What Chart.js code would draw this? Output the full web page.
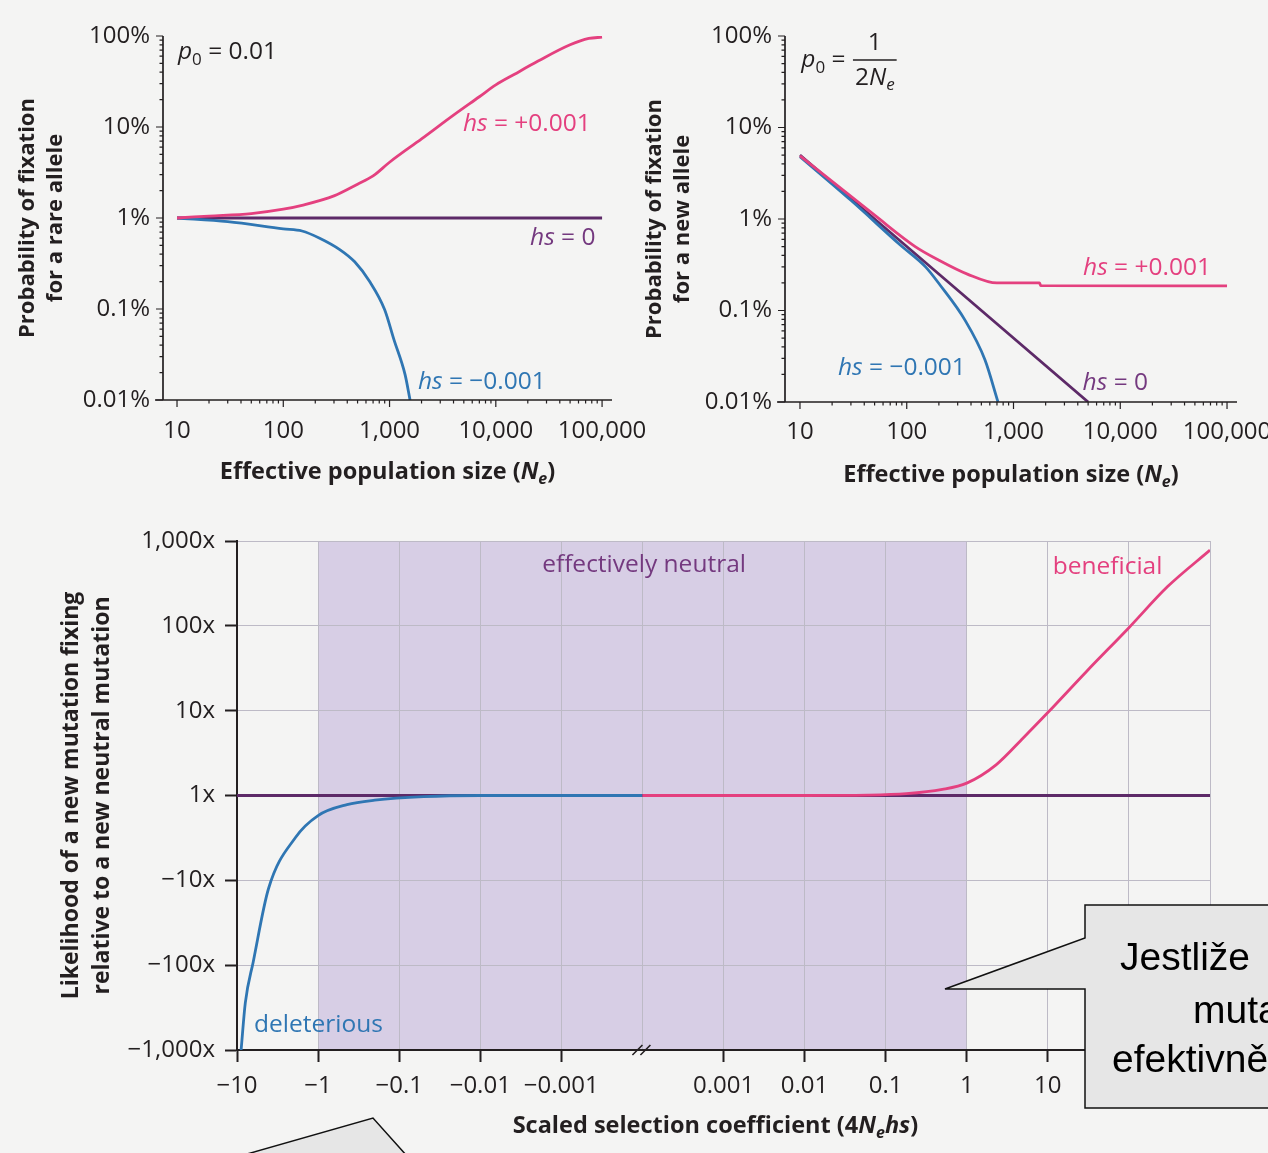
<!DOCTYPE html>
<html lang="en">
<head>
<meta charset="utf-8">
<title>Fixation probability, effective population size and selection</title>
<script src="https://cdn.jsdelivr.net/npm/chart.js@4.4.1/dist/chart.umd.min.js"></script>
<style>
  html, body { margin: 0; padding: 0; background: #f4f4f3; }
  #page { position: relative; width: 1268px; height: 1153px; overflow: hidden; }
  .panel { position: absolute; }
  .panel canvas { display: block; }
  #callouts { position: absolute; left: 0; top: 0; }
</style>
</head>
<body>
<div id="page">
  <div class="panel" style="left:0;top:0;width:660px;height:500px"><canvas id="chart-rare"></canvas></div>
  <div class="panel" style="left:620px;top:0;width:648px;height:500px"><canvas id="chart-new"></canvas></div>
  <div class="panel" style="left:0;top:500px;width:1268px;height:653px"><canvas id="chart-scaled"></canvas></div>
  <svg id="callouts" width="1268" height="1153">
    <path d="M1085 905 H1300 V1108 H1085 V989 H945 L1085 938 Z" fill="#e6e6e6" stroke="#111" stroke-width="1.5"/>
    <text font-family="'Liberation Sans', Arial, sans-serif" font-size="39" fill="#000">
      <tspan x="1120" y="970">Jestliže</tspan>
      <tspan x="1193" y="1023">mutace</tspan>
      <tspan x="1112" y="1072">efektivně neutrální</tspan>
    </text>
    <path d="M240 1156 L373 1118 L407 1156 Z" fill="#e6e6e6" stroke="#111" stroke-width="1.5"/>
  </svg>
</div>

<script>
'use strict';

/* ── Data ─────────────────────────────────────────────────────── */
// Top left: fixation of a rare allele (p0 = 0.01), probability in %
const RARE_PLUS_NE   = [10, 20, 50, 100, 150, 300, 500, 700, 1000, 2000, 4000, 7000, 10000, 15000, 25000, 50000, 75000, 100000];
const RARE_PLUS_PCT  = [1.0, 1.05, 1.12, 1.25, 1.38, 1.75, 2.35, 2.9, 4.1, 7.4, 13.5, 21.5, 29, 38, 53, 80, 94, 97];
const RARE_MINUS_NE  = [10, 30, 100, 150, 220, 340, 470, 650, 900, 1100, 1400, 1560];
const RARE_MINUS_PCT = [1.0, 0.91, 0.76, 0.72, 0.60, 0.45, 0.33, 0.2, 0.098, 0.046, 0.019, 0.01];
const RARE_ZERO_NE   = [10, 100000];
const RARE_ZERO_PCT  = [1, 1];

// Top right: fixation of a new allele (p0 = 1/2Ne), probability in %
const NEW_PLUS_NE   = [10, 50, 120, 200, 370, 700, 1750, 1800, 100000];
const NEW_PLUS_PCT  = [4.9, 1.1, 0.5, 0.355, 0.25, 0.2, 0.2, 0.187, 0.186];
const NEW_MINUS_NE  = [10, 30, 87, 150, 205, 350, 540, 716];
const NEW_MINUS_PCT = [4.8, 1.6, 0.52, 0.30, 0.19, 0.079, 0.029, 0.01];
const NEW_ZERO_NE   = [10, 5000];
const NEW_ZERO_PCT  = [5.0, 0.01];

// Bottom: fixation relative to a neutral mutation vs scaled selection coefficient 4Ne·hs
const DEL_S   = [-8.9, -7.9, -6.3, -4.1, -1.9, -1, -0.44, -0.2, -0.05, -0.01, -0.0001];
const DEL_REL = [0.001, 0.0036, 0.011, 0.079, 0.32, 0.58, 0.78, 0.88, 0.97, 1.0, 1.0];
const BEN_S   = [0.0001, 0.01, 0.06, 0.18, 0.5, 1, 2.3, 5, 10, 30, 100, 300, 1000];
const BEN_REL = [1, 1, 1.01, 1.05, 1.18, 1.4, 2.3, 4.8, 9.5, 29, 95, 290, 780];
const NEU_S   = [-10, 1000];
const NEU_REL = [1, 1];

// Ticks
const NE_TICKS   = [10, 100, 1000, 10000, 100000];
const NE_LABELS  = ['10', '100', '1,000', '10,000', '100,000'];
const PCT_TICKS  = [0.01, 0.1, 1, 10, 100];
const PCT_LABELS = ['0.01%', '0.1%', '1%', '10%', '100%'];
const REL_TICKS  = [0.001, 0.01, 0.1, 1, 10, 100, 1000];
const REL_LABELS = ['−1,000x', '−100x', '−10x', '1x', '10x', '100x', '1,000x'];
const S_TICKS    = [-10, -1, -0.1, -0.01, -0.001, 0, 0.001, 0.01, 0.1, 1, 10, 100, 1000];
const S_LABELS   = ['−10', '−1', '−0.1', '−0.01', '−0.001', '', '0.001', '0.01', '0.1', '1', '10', '100', '1,000'];
const NEUTRAL_ZONE = [-1, 1];

/* ── Style ────────────────────────────────────────────────────── */
const FONT = "'Open Sans', 'Noto Sans', sans-serif";
const INK = '#231f20';
const PINK = '#e4407f';
const BLUE = '#2f76b3';
const PURPLE = '#5d2a68';
const PURPLE_TEXT = '#74397f';
const GRID = '#bdbac6';
const NEUTRAL_FILL = '#d7cee5';
const TICK_SIZE = 24;
const NOTE_SIZE = 24.5;

Chart.defaults.font.family = FONT;
Chart.defaults.color = INK;
Chart.defaults.animation = false;
Chart.defaults.events = [];

const zip = (xs, ys) => xs.map((x, i) => ({ x, y: ys[i] }));

// the scaled-s axis is log on each side of zero, with the gap around zero cut out
const sToPos = s => (s === 0 ? 5 : s < 0 ? 1 - Math.log10(-s) : 9 + Math.log10(s));

function line(label, data, color) {
  return {
    label, data,
    borderColor: color,
    borderWidth: 2.8,
    pointRadius: 0,
    fill: false,
    cubicInterpolationMode: 'monotone',
  };
}

/* ── Rich text helpers (italics and subscripts) ───────────────── */
function fontOf(p, size) {
  const s = p.sub ? Math.round(size * 0.68) : size;
  return `${p.i ? 'italic ' : ''}${p.b ? 'bold ' : ''}${s}px ${FONT}`;
}
function richWidth(ctx, parts, size) {
  return parts.reduce((w, p) => { ctx.font = fontOf(p, size); return w + ctx.measureText(p.t).width; }, 0);
}
function drawRich(ctx, parts, x, y, size, align, color) {
  let cx = align === 'center' ? x - richWidth(ctx, parts, size) / 2 : x;
  ctx.save();
  ctx.fillStyle = color;
  ctx.textBaseline = 'middle';
  ctx.textAlign = 'left';
  parts.forEach(p => {
    ctx.font = fontOf(p, size);
    ctx.fillText(p.t, cx, y + (p.sub ? size * 0.32 : 0));
    cx += ctx.measureText(p.t).width;
  });
  ctx.restore();
  return cx;
}
function drawFraction(ctx, num, den, x, y, size, color) {
  const w = Math.max(richWidth(ctx, num, size), richWidth(ctx, den, size)) + 4;
  const mid = x + w / 2;
  drawRich(ctx, num, mid, y - size * 0.7, size, 'center', color);
  drawRich(ctx, den, mid, y + size * 0.72, size, 'center', color);
  ctx.save();
  ctx.strokeStyle = color;
  ctx.lineWidth = 1.6;
  ctx.beginPath();
  ctx.moveTo(x, y);
  ctx.lineTo(x + w, y);
  ctx.stroke();
  ctx.restore();
}

const hs = v => [{ t: 'hs', i: true }, { t: ` = ${v}` }];
const p0 = [{ t: 'p', i: true }, { t: '0', sub: true }, { t: ' = ' }];
const neTitle = [
  { t: 'Effective population size (', b: true },
  { t: 'N', b: true, i: true }, { t: 'e', b: true, i: true, sub: true },
  { t: ')', b: true },
];

// text labels anchored in data units, drawn after the curves
function notesPlugin(id, notes) {
  return {
    id,
    afterDatasetsDraw(chart) {
      const { ctx, scales: { x, y } } = chart;
      notes.forEach(n => {
        const size = n.size || NOTE_SIZE;
        const px = x.getPixelForValue(n.x);
        const py = y.getPixelForValue(n.y);
        const end = drawRich(ctx, n.parts, px, py, size, n.align || 'left', n.color);
        if (n.frac) drawFraction(ctx, n.frac.num, n.frac.den, end + 1, py, size, n.color);
      });
    },
  };
}

// x-axis title with italic / subscript parts
function xTitlePlugin(id, parts, size, y, centerValue) {
  return {
    id,
    afterDraw(chart) {
      const { ctx, chartArea: a, scales: { x } } = chart;
      const cx = centerValue === undefined ? (a.left + a.right) / 2 : x.getPixelForValue(centerValue);
      drawRich(ctx, parts, cx, y, size, 'center', INK);
    },
  };
}

// axis lines plus major/minor log ticks for the two top panels
const logFrame = {
  id: 'logFrame',
  afterDraw(chart) {
    const { ctx, chartArea: a, scales: { x, y } } = chart;
    ctx.save();
    ctx.strokeStyle = INK;
    ctx.lineWidth = 1.7;
    ctx.beginPath();
    ctx.moveTo(a.left, a.top);
    ctx.lineTo(a.left, a.bottom);
    ctx.moveTo(a.left - 8, a.bottom);
    ctx.lineTo(a.right, a.bottom);
    ctx.stroke();
    ctx.lineWidth = 1.2;
    ctx.beginPath();
    [[x, 1, 5], [y, -4, 2]].forEach(([scale, lo, hi]) => {
      for (let e = lo; e <= hi; e++) {
        for (let m = 1; m <= 9; m++) {
          const v = m * Math.pow(10, e);
          if (v < scale.min || v > scale.max) continue;
          const len = m === 1 ? 7 : 3.5;
          const p = scale.getPixelForValue(v);
          if (scale.isHorizontal()) { ctx.moveTo(p, a.bottom); ctx.lineTo(p, a.bottom + len); }
          else { ctx.moveTo(a.left - len, p); ctx.lineTo(a.left, p); }
        }
      }
    });
    ctx.stroke();
    ctx.restore();
  },
};

function fixedBox(size) {
  return s => {
    if (s.isHorizontal()) s.height = size; else s.width = size;
    s.paddingLeft = s.paddingRight = s.paddingTop = s.paddingBottom = 0;
  };
}

function probabilityOptions({ xMin, xMax, yWidth, xHeight, padding, yTitle, yTitlePad, yLabelPad, xLabelPad }) {
  return {
    responsive: true,
    maintainAspectRatio: false,
    layout: { padding },
    plugins: { legend: { display: false }, tooltip: { enabled: false } },
    scales: {
      x: {
        type: 'logarithmic',
        min: xMin,
        max: xMax,
        afterBuildTicks: s => { s.ticks = NE_TICKS.map(value => ({ value })); },
        afterFit: fixedBox(xHeight),
        grid: { display: false, drawTicks: false },
        border: { display: false },
        ticks: { callback: (v, i) => NE_LABELS[i], font: { size: TICK_SIZE }, padding: xLabelPad, maxRotation: 0, autoSkip: false, color: INK },
      },
      y: {
        type: 'logarithmic',
        min: 0.01,
        max: 100,
        afterBuildTicks: s => { s.ticks = PCT_TICKS.map(value => ({ value })); },
        afterFit: fixedBox(yWidth),
        grid: { display: false, drawTicks: false },
        border: { display: false },
        ticks: { callback: (v, i) => PCT_LABELS[i], font: { size: TICK_SIZE }, padding: yLabelPad, autoSkip: false, color: INK },
        title: {
          display: true,
          text: yTitle,
          color: INK,
          font: { size: 22, weight: 'bold', lineHeight: 1.25 },
          padding: { top: yTitlePad, bottom: 0 },
        },
      },
    },
  };
}

/* ── Top left: rare allele ────────────────────────────────────── */
new Chart(document.getElementById('chart-rare'), {
  type: 'line',
  data: {
    datasets: [
      line('hs = +0.001', zip(RARE_PLUS_NE, RARE_PLUS_PCT), PINK),
      line('hs = −0.001', zip(RARE_MINUS_NE, RARE_MINUS_PCT), BLUE),
      line('hs = 0', zip(RARE_ZERO_NE, RARE_ZERO_PCT), PURPLE),
    ],
  },
  options: probabilityOptions({
    xMin: 7.38, xMax: 124000, yWidth: 163, xHeight: 100,
    padding: { top: 36, right: 48, bottom: 0, left: 0 },
    yTitle: ['Probability of fixation', 'for a rare allele'],
    yTitlePad: 14, yLabelPad: 13, xLabelPad: 17,
  }),
  plugins: [
    logFrame,
    notesPlugin('notesRare', [
      { x: 4900, y: 10.8, parts: hs('+0.001'), color: PINK },
      { x: 21000, y: 0.6, parts: hs('0'), color: PURPLE_TEXT },
      { x: 1850, y: 0.0158, parts: hs('−0.001'), color: BLUE },
      { x: 10.2, y: 66.7, parts: p0.concat([{ t: '0.01' }]), color: INK },
    ]),
    xTitlePlugin('titleRare', neTitle, 23.5, 472),
  ],
});

/* ── Top right: new allele ────────────────────────────────────── */
new Chart(document.getElementById('chart-new'), {
  type: 'line',
  data: {
    datasets: [
      line('hs = +0.001', zip(NEW_PLUS_NE, NEW_PLUS_PCT), PINK),
      line('hs = −0.001', zip(NEW_MINUS_NE, NEW_MINUS_PCT), BLUE),
      line('hs = 0', zip(NEW_ZERO_NE, NEW_ZERO_PCT), PURPLE),
    ],
  },
  options: probabilityOptions({
    xMin: 7.24, xMax: 124000, yWidth: 165, xHeight: 98,
    padding: { top: 36, right: 31, bottom: 0, left: 0 },
    yTitle: ['Probability of fixation', 'for a new allele'],
    yTitlePad: 21, yLabelPad: 13, xLabelPad: 16,
  }),
  plugins: [
    logFrame,
    notesPlugin('notesNew', [
      { x: 4480, y: 0.291, parts: hs('+0.001'), color: PINK },
      { x: 22.7, y: 0.0235, parts: hs('−0.001'), color: BLUE },
      { x: 4440, y: 0.0161, parts: hs('0'), color: PURPLE_TEXT },
      {
        x: 10.3, y: 54.7, parts: p0, color: INK,
        frac: { num: [{ t: '1' }], den: [{ t: '2' }, { t: 'N', i: true }, { t: 'e', i: true, sub: true }] },
      },
    ]),
    xTitlePlugin('titleNew', neTitle, 23.5, 475),
  ],
});

/* ── Bottom: relative fixation vs scaled selection coefficient ── */
const scaledFrame = {
  id: 'scaledFrame',
  beforeDraw(chart) {
    // shaded "effectively neutral" band, under the grid
    const { ctx, chartArea: a, scales: { x } } = chart;
    const x0 = x.getPixelForValue(sToPos(NEUTRAL_ZONE[0]));
    const x1 = x.getPixelForValue(sToPos(NEUTRAL_ZONE[1]));
    ctx.save();
    ctx.fillStyle = NEUTRAL_FILL;
    ctx.fillRect(x0, a.top, x1 - x0, a.bottom - a.top);
    ctx.restore();
  },
  afterDraw(chart) {
    // break marks where the axis skips over zero
    const { ctx, chartArea: a, scales: { x } } = chart;
    const px = x.getPixelForValue(sToPos(0));
    ctx.save();
    ctx.strokeStyle = INK;
    ctx.lineWidth = 1.6;
    ctx.beginPath();
    [-5, 3].forEach(dx => {
      ctx.moveTo(px + dx - 5, a.bottom + 5);
      ctx.lineTo(px + dx + 5, a.bottom - 5);
    });
    ctx.stroke();
    ctx.restore();
  },
};

const scaledData = (ss, rs) => ss.map((s, i) => ({ x: sToPos(s), y: rs[i] }));

new Chart(document.getElementById('chart-scaled'), {
  type: 'line',
  data: {
    datasets: [
      line('beneficial', scaledData(BEN_S, BEN_REL), PINK),
      line('deleterious', scaledData(DEL_S, DEL_REL), BLUE),
      line('neutral', scaledData(NEU_S, NEU_REL), PURPLE),
    ],
  },
  options: {
    responsive: true,
    maintainAspectRatio: false,
    layout: { padding: { top: 41, right: 58, bottom: 0, left: 0 } },
    plugins: { legend: { display: false }, tooltip: { enabled: false } },
    scales: {
      x: {
        type: 'linear',
        min: 0,
        max: 12,
        afterBuildTicks: s => { s.ticks = S_TICKS.map(v => ({ value: sToPos(v) })); },
        afterFit: fixedBox(103),
        grid: {
          color: GRID,
          lineWidth: 1,
          tickLength: 12,
          tickWidth: 2,
          tickColor: c => (c.tick && c.tick.value === 5 ? 'rgba(0,0,0,0)' : INK),
        },
        border: { color: INK, width: 2 },
        ticks: { callback: (v, i) => S_LABELS[i], font: { size: TICK_SIZE }, padding: 10, maxRotation: 0, autoSkip: false, color: INK },
      },
      y: {
        type: 'logarithmic',
        min: 0.001,
        max: 1000,
        afterBuildTicks: s => { s.ticks = REL_TICKS.map(value => ({ value })); },
        afterFit: fixedBox(237),
        grid: { color: GRID, lineWidth: 1, tickLength: 12, tickWidth: 2, tickColor: INK },
        border: { color: INK, width: 2 },
        ticks: { callback: (v, i) => REL_LABELS[i], font: { size: TICK_SIZE }, padding: 10, autoSkip: false, color: INK },
        title: {
          display: true,
          text: ['Likelihood of a new mutation fixing', 'relative to a new neutral mutation'],
          color: INK,
          font: { size: 23, weight: 'bold', lineHeight: 1.35 },
          padding: { top: 56, bottom: 0 },
        },
      },
    },
  },
  plugins: [
    scaledFrame,
    notesPlugin('notesScaled', [
      { x: 5.02, y: 525, parts: [{ t: 'effectively neutral' }], color: PURPLE_TEXT, align: 'center' },
      { x: 10.06, y: 488, parts: [{ t: 'beneficial' }], color: PINK },
      { x: 0.21, y: 0.00195, parts: [{ t: 'deleterious' }], color: BLUE },
    ]),
    xTitlePlugin('titleScaled', [
      { t: 'Scaled selection coefficient (4', b: true },
      { t: 'N', b: true, i: true }, { t: 'e', b: true, i: true, sub: true },
      { t: 'hs', b: true, i: true },
      { t: ')', b: true },
    ], 23.5, 626, 5.9),
  ],
});
</script>
</body>
</html>
